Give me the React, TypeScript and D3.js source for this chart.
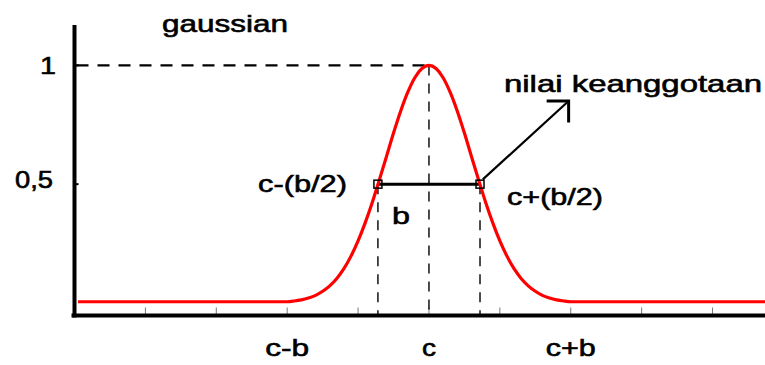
import React from "react";
import * as d3 from "d3";

// ---- data ----
const title = "gaussian";
const xTickValues = [-4, -3, -2, -1, 0, 1, 2, 3, 4];
const xLabelValues = [-2, 0, 2];
const xLabelTexts = ["c-b", "c", "c+b"];
const xLabelWidths = [44, 14, 50];
const yTickValues = [0.5, 1];
const yTickTexts = ["0,5", "1"];
const centerX = 0;
const peakValue = 1;
const halfValue = 0.5;
const halfPointsX = [-0.72, 0.72];
const halfLabels = ["c-(b/2)", "c+(b/2)"];
const widthLabel = "b";
const arrowLabel = "nilai keanggotaan";
const arrowFrom = [0.76, 0.52];
const arrowTip = [1.97, 0.85];
const arrowHeadEnd = [1.66, 0.76];

const curveX = [-4.95, -2.0, -1.9, -1.8, -1.7, -1.6, -1.5, -1.4, -1.3, -1.2, -1.1, -1.0, -0.9, -0.8, -0.7, -0.6, -0.5, -0.4, -0.3, -0.2, -0.1, 0,
  0.1, 0.2, 0.3, 0.4, 0.5, 0.6, 0.7, 0.8, 0.9, 1.0, 1.1, 1.2, 1.3, 1.4, 1.5, 1.6, 1.7, 1.8, 1.9, 2.0, 4.75];
const curveY = [0.005, 0.005, 0.008, 0.013, 0.021, 0.032, 0.049, 0.072, 0.103, 0.144, 0.197, 0.261, 0.337, 0.423, 0.518, 0.616, 0.715, 0.807, 0.886, 0.948, 0.987, 1,
  0.987, 0.948, 0.886, 0.807, 0.715, 0.616, 0.518, 0.423, 0.337, 0.261, 0.197, 0.144, 0.103, 0.072, 0.049, 0.032, 0.021, 0.013, 0.008, 0.005, 0.005];

const W = 765;
const H = 365;
const FONT = "'Liberation Sans', Arial, sans-serif";

export default function App() {
  const x = d3.scaleLinear().domain([-5, 4.74]).range([74.5, 765]);
  const y = d3.scaleLinear().domain([-0.055, 1.17]).range([316, 25]);

  const line = d3
    .line<number>()
    .x((_, i) => x(curveX[i]))
    .y((d) => y(d))
    .curve(d3.curveMonotoneX);

  const xAxisY = y(-0.055) - 0.5;
  const yAxisX = x(-5);

  const textStyle: React.CSSProperties = {
    fontFamily: FONT,
    fontSize: 24,
    fill: "#000",
    stroke: "#000",
    strokeWidth: 0.6,
  };

  return (
    <svg
      width={W}
      height={H}
      style={{ position: "absolute", left: 0, top: 0, background: "#fff" }}
    >
      <rect x={0} y={0} width={W} height={H} fill="#fff" />
      {/* x ticks */}
      {xTickValues.map((v) => (
        <line key={"t" + v} x1={x(v)} x2={x(v)} y1={xAxisY - 8} y2={xAxisY} stroke="#777" strokeWidth={1} />
      ))}
      {/* dashed guides */}
      <line x1={yAxisX + 2} x2={x(centerX)} y1={y(peakValue)} y2={y(peakValue)} stroke="#000" strokeWidth={2.2} strokeDasharray="12 9" />
      <line x1={x(centerX)} x2={x(centerX)} y1={y(peakValue)} y2={xAxisY} stroke="#000" strokeWidth={1.4} strokeDasharray="10 8" />
      {halfPointsX.map((v) => (
        <line key={"d" + v} x1={x(v)} x2={x(v)} y1={y(halfValue)} y2={xAxisY} stroke="#000" strokeWidth={1.4} strokeDasharray="10 8" />
      ))}
      {/* half width segment */}
      <line x1={x(halfPointsX[0])} x2={x(halfPointsX[1])} y1={y(halfValue)} y2={y(halfValue)} stroke="#000" strokeWidth={3} />
      {/* curve */}
      <path d={line(curveY) || ""} fill="none" stroke="#ff0000" strokeWidth={3.2} />
      {/* markers */}
      {halfPointsX.map((v) => (
        <rect key={"m" + v} x={x(v) - 4} y={y(halfValue) - 4} width={8} height={8} fill="none" stroke="#000" strokeWidth={1.5} />
      ))}
      {/* arrow */}
      <line x1={x(arrowFrom[0])} y1={y(arrowFrom[1])} x2={x(arrowTip[0])} y2={y(arrowTip[1])} stroke="#000" strokeWidth={2.2} />
      <polyline
        points={`${x(arrowHeadEnd[0])},${y(arrowTip[1])} ${x(arrowTip[0])},${y(arrowTip[1])} ${x(arrowTip[0])},${y(arrowHeadEnd[1])}`}
        fill="none"
        stroke="#000"
        strokeWidth={3}
      />
      {/* axes */}
      <line x1={yAxisX} x2={yAxisX} y1={25} y2={xAxisY + 2} stroke="#000" strokeWidth={4} />
      <line x1={yAxisX - 3} x2={W} y1={xAxisY} y2={xAxisY} stroke="#000" strokeWidth={4} />
      {yTickValues.map((v) => (
        <line key={"yt" + v} x1={yAxisX} x2={yAxisX + 4} y1={y(v)} y2={y(v)} stroke="#000" strokeWidth={2} />
      ))}
      {/* texts */}
      <text x={162} y={32} style={textStyle} textLength={126} lengthAdjust="spacingAndGlyphs">{title}</text>
      <text x={15} y={y(yTickValues[0]) + 4} style={textStyle} textLength={38} lengthAdjust="spacingAndGlyphs">{yTickTexts[0]}</text>
      <text x={40} y={y(yTickValues[1]) + 9} style={textStyle} textLength={16} lengthAdjust="spacingAndGlyphs">{yTickTexts[1]}</text>
      <text x={258} y={192} style={textStyle} textLength={89} lengthAdjust="spacingAndGlyphs">{halfLabels[0]}</text>
      <text x={507} y={205} style={textStyle} textLength={96} lengthAdjust="spacingAndGlyphs">{halfLabels[1]}</text>
      <text x={392} y={224} style={textStyle} textLength={18} lengthAdjust="spacingAndGlyphs">{widthLabel}</text>
      <text x={504} y={92} style={textStyle} textLength={258} lengthAdjust="spacingAndGlyphs">{arrowLabel}</text>
      {xLabelValues.map((v, i) => (
        <text
          key={"xl" + v}
          x={x(v) - xLabelWidths[i] / 2}
          y={356}
          style={textStyle}
          textLength={xLabelWidths[i]}
          lengthAdjust="spacingAndGlyphs"
        >
          {xLabelTexts[i]}
        </text>
      ))}
    </svg>
  );
}
